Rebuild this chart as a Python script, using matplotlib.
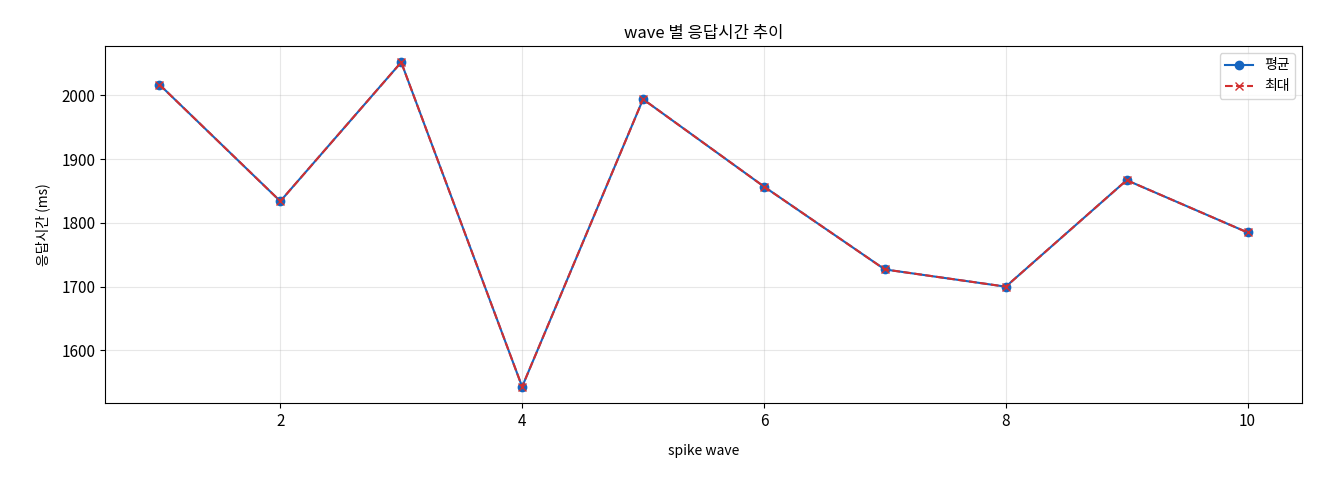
import matplotlib
matplotlib.use("Agg")
import matplotlib.pyplot as plt

plt.rcParams['font.family'] = ['Noto Sans CJK KR', 'DejaVu Sans']

waves = [1, 2, 3, 4, 5, 6, 7, 8, 9, 10]
avg = [2017, 1834, 2052, 1543, 1994, 1857, 1727, 1700, 1867, 1785]
mx = [2017, 1834, 2052, 1543, 1994, 1857, 1727, 1700, 1867, 1785]

fig = plt.figure(figsize=(13.2, 4.8), dpi=100)
ax = fig.add_axes([105/1320, 1-403/480, (1302-105)/1320, (403-46)/480])
ax.plot(waves, avg, '-o', color='#1565c0', label='평균', markersize=6)
ax.plot(waves, mx, '--x', color='#d32f2f', label='최대', markersize=6)
ax.set_title('wave 별 응답시간 추이', fontsize=12)
ax.set_xlabel('spike wave', fontsize=10, labelpad=10)
ax.set_ylabel('응답시간 (ms)', fontsize=10, labelpad=8)
ax.tick_params(labelsize=11)
ax.grid(True, alpha=0.3)
ax.legend(loc='upper right', fontsize=10)
fig.savefig('out.png', dpi=100)
